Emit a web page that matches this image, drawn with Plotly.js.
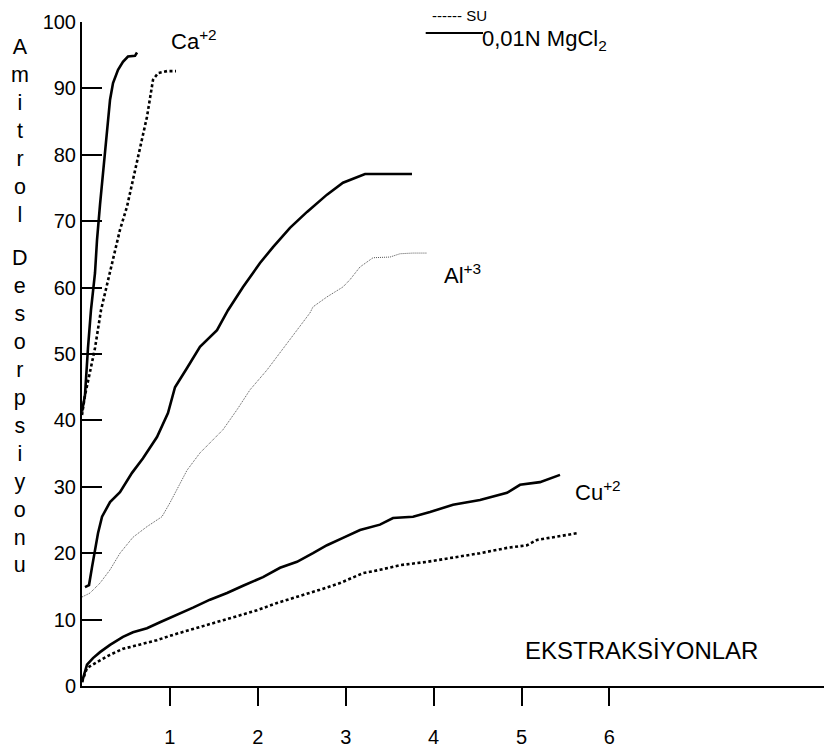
<!DOCTYPE html>
<html>
<head>
<meta charset="utf-8">
<script src="https://cdn.plot.ly/plotly-3.0.1.min.js"></script>
<style>
  html, body { margin: 0; padding: 0; background: #fff; }
  #chart { width: 824px; height: 754px; }
</style>
</head>
<body>
<div id="chart"></div>
<script>
// ---- Data (x = extraction number, y = Amitrol desorption) ----
var caMgX = [0, 0.034, 0.068, 0.102, 0.148, 0.171, 0.205, 0.250, 0.284, 0.319, 0.353, 0.410, 0.466, 0.523, 0.603, 0.626];
var caMgY = [41.3, 43.8, 50.9, 56.6, 62.2, 67.2, 72.5, 79.1, 83.3, 88.3, 90.8, 92.8, 94.0, 94.8, 94.9, 95.4];

var caSuX = [0, 0.034, 0.091, 0.148, 0.216, 0.296, 0.364, 0.432, 0.512, 0.626, 0.739, 0.808, 0.865, 0.967, 1.069];
var caSuY = [40.8, 43.8, 47.3, 50.9, 56.6, 61.2, 65.2, 68.7, 72.2, 79.2, 85.7, 91.3, 92.3, 92.6, 92.6];

var alMgX = [0.034, 0.080, 0.114, 0.148, 0.182, 0.228, 0.319, 0.432, 0.569, 0.694, 0.853, 0.978, 1.024, 1.058, 1.195, 1.342, 1.536, 1.661, 1.832, 2.025, 2.173, 2.366, 2.560, 2.787, 2.969, 3.220, 3.754];
var alMgY = [14.9, 15.2, 17.9, 20.5, 23.0, 25.5, 27.7, 29.2, 32.1, 34.3, 37.5, 41.1, 43.5, 45.0, 47.9, 51.1, 53.6, 56.6, 60.1, 63.7, 66.1, 69.0, 71.4, 74.0, 75.8, 77.1, 77.1];

var alSuX = [0, 0.091, 0.205, 0.319, 0.432, 0.580, 0.739, 0.910, 1.001, 1.092, 1.195, 1.342, 1.490, 1.604, 1.763, 1.911, 2.105, 2.253, 2.366, 2.480, 2.594, 2.628, 2.787, 2.969, 3.049, 3.162, 3.311, 3.504, 3.618, 3.766, 3.925];
var alSuY = [13.4, 14.0, 15.5, 17.5, 20.0, 22.4, 24.0, 25.5, 27.6, 30.0, 32.5, 35.1, 37.1, 38.6, 41.6, 44.6, 47.6, 50.2, 52.1, 54.1, 56.2, 57.1, 58.6, 60.1, 61.2, 63.1, 64.5, 64.6, 65.1, 65.2, 65.2];

var cuMgX = [0, 0.057, 0.125, 0.205, 0.319, 0.466, 0.580, 0.739, 0.887, 1.081, 1.263, 1.456, 1.650, 1.832, 2.059, 2.253, 2.446, 2.628, 2.787, 2.969, 3.163, 3.390, 3.538, 3.766, 3.959, 4.221, 4.528, 4.835, 4.983, 5.210, 5.324, 5.438];
var cuMgY = [0.6, 3.2, 4.2, 5.1, 6.2, 7.4, 8.1, 8.7, 9.6, 10.7, 11.8, 13.0, 14.0, 15.1, 16.4, 17.8, 18.7, 20.0, 21.2, 22.3, 23.5, 24.3, 25.3, 25.5, 26.2, 27.3, 28.0, 29.1, 30.3, 30.7, 31.3, 31.8];

var cuSuX = [0, 0.057, 0.171, 0.319, 0.466, 0.660, 0.853, 1.035, 1.229, 1.422, 1.604, 1.797, 1.991, 2.218, 2.446, 2.708, 2.935, 3.197, 3.390, 3.618, 3.925, 4.221, 4.528, 4.835, 5.063, 5.176, 5.358, 5.631];
var cuSuY = [0.6, 2.7, 3.6, 4.7, 5.6, 6.2, 6.9, 7.7, 8.4, 9.2, 9.9, 10.7, 11.4, 12.5, 13.4, 14.5, 15.5, 17.0, 17.5, 18.2, 18.7, 19.3, 20.0, 20.8, 21.2, 22.0, 22.4, 23.0];

var xTickVals = [1, 2, 3, 4, 5, 6];
var xTickText = ['1', '2', '3', '4', '5', '6'];
var yTickVals = [0, 10, 20, 30, 40, 50, 60, 70, 80, 90, 100];
var yTickText = ['0', '10', '20', '30', '40', '50', '60', '70', '80', '90', '100'];

var seriesLabels = ['SU', '0,01N MgCl<sub>2</sub>'];
var ionLabels = ['Ca<sup>+2</sup>', 'Al<sup>+3</sup>', 'Cu<sup>+2</sup>'];
var yTitleParts = ['Amitrol', 'Desorpsiyonu'];
var xTitle = 'EKSTRAKSİYONLAR';

// ---- Styles ----
var FONT = 'Liberation Sans, Arial, sans-serif';
var solid = {color: '#000', width: 2.6, dash: 'solid'};
var thickDot = {color: '#000', width: 2.6, dash: '3px,2.5px'};
var thinDot = {color: '#555', width: 1, dash: '1px,1px'};

function tr(x, y, line, name) {
  return {type: 'scatter', mode: 'lines', x: x, y: y, line: line, name: name,
          showlegend: false, hoverinfo: 'skip'};
}

var data = [
  tr(caMgX, caMgY, solid, 'Ca MgCl2'),
  tr(caSuX, caSuY, thickDot, 'Ca SU'),
  tr(alMgX, alMgY, solid, 'Al MgCl2'),
  tr(alSuX, alSuY, thinDot, 'Al SU'),
  tr(cuMgX, cuMgY, solid, 'Cu MgCl2'),
  tr(cuSuX, cuSuY, thickDot, 'Cu SU')
];

var L = 82, T = 22, W = 742, H = 664;
function px(xp) { return (xp - L) / W; }
function py(yp) { return (T + H - yp) / H; }

function stack(s) { return s.split('').join('<br>'); }

var annotations = [
  {text: stack(yTitleParts[0]), x: px(20), y: py(130.5), xanchor: 'center', yanchor: 'middle',
   font: {size: 21.5}},
  {text: stack(yTitleParts[1]), x: px(20), y: py(411.5), xanchor: 'center', yanchor: 'middle',
   font: {size: 21.5}},
  {text: ionLabels[0], x: px(170), y: py(40), xanchor: 'left', yanchor: 'middle', font: {size: 22}},
  {text: ionLabels[1], x: px(443), y: py(274), xanchor: 'left', yanchor: 'middle', font: {size: 22}},
  {text: ionLabels[2], x: px(574), y: py(491), xanchor: 'left', yanchor: 'middle', font: {size: 22}},
  {text: xTitle, x: px(524), y: py(650), xanchor: 'left', yanchor: 'middle', font: {size: 24}},
  {text: '------ ' + seriesLabels[0], x: px(431), y: py(15), xanchor: 'left', yanchor: 'middle', font: {size: 15}},
  {text: seriesLabels[1], x: px(481), y: py(40), xanchor: 'left', yanchor: 'middle', font: {size: 22}}
].map(function (a) {
  a.xref = 'paper'; a.yref = 'paper'; a.showarrow = false; a.borderpad = 0;
  a.font.family = FONT; a.font.color = '#000';
  return a;
});

var layout = {
  width: 824, height: 754,
  margin: {l: L, r: 0, t: T, b: 754 - T - H, pad: 0},
  paper_bgcolor: '#fff', plot_bgcolor: '#fff',
  font: {family: FONT, color: '#000', size: 20},
  showlegend: false,
  xaxis: {
    range: [0, 742 / 87.9], showgrid: false, zeroline: false,
    showline: true, linecolor: '#000', linewidth: 2,
    ticks: 'outside', ticklen: 18, tickwidth: 2, tickcolor: '#000',
    tickvals: xTickVals, ticktext: xTickText, ticklabelstandoff: 14,
    tickfont: {size: 20, family: FONT, color: '#000'}, fixedrange: true
  },
  yaxis: {
    range: [0, 100], showgrid: false, zeroline: false,
    showline: true, linecolor: '#000', linewidth: 2,
    ticks: 'inside', ticklen: 20, tickwidth: 2, tickcolor: '#000',
    tickvals: yTickVals, ticktext: yTickText,
    tickfont: {size: 20, family: FONT, color: '#000'}, fixedrange: true
  },
  annotations: annotations,
  shapes: [
    {type: 'line', xref: 'paper', yref: 'paper', x0: px(425.7), x1: px(483), y0: py(33), y1: py(33),
     line: {color: '#000', width: 2}}
  ]
};

Plotly.newPlot('chart', data, layout, {staticPlot: true, displayModeBar: false});
</script>
</body>
</html>
